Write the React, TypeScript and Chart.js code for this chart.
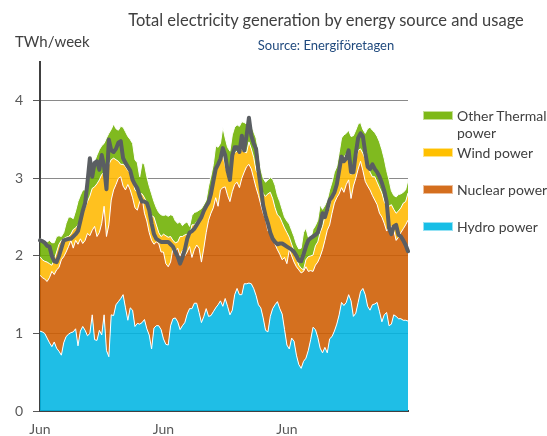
import React, { useEffect, useRef } from 'react';
import { Chart, registerables } from 'chart.js';

Chart.register(...registerables);

// Weekly values, TWh/week
const hydro = [
  1.03, 1.02, 1.00, 0.94, 0.88, 0.83, 0.89, 0.81, 0.77, 0.72,
  0.88, 0.96, 0.99, 1.01, 1.02, 1.06, 0.84, 1.03, 1.09, 1.04,
  0.97, 1.00, 1.24, 0.92, 0.91, 1.04, 0.98, 1.24, 0.78, 0.70,
  1.24, 1.23, 1.37, 1.41, 1.45, 1.50, 1.33, 1.17, 1.33, 1.30,
  1.09, 1.13, 1.12, 1.14, 1.18, 1.06, 0.98, 0.80, 1.07, 1.10,
  1.10, 1.05, 0.93, 0.86, 0.85, 1.10, 1.19, 1.20, 1.15, 1.05,
  1.10, 1.14, 1.25, 1.32, 1.32, 1.39, 1.39, 1.27, 1.14, 1.22,
  1.32, 1.22, 1.23, 1.28, 1.33, 1.37, 1.42, 1.35, 1.45, 1.35,
  1.24, 1.30, 1.50, 1.58, 1.50, 1.50, 1.64, 1.64, 1.65, 1.64,
  1.58, 1.49, 1.37, 1.33, 1.20, 1.04, 1.02, 1.22, 1.32, 1.37,
  1.41, 1.32, 1.25, 1.05, 0.85, 0.80, 0.94, 0.90, 0.72, 0.60,
  0.55, 0.64, 0.68, 0.78, 0.92, 1.08, 1.05, 0.95, 0.81, 0.75,
  0.82, 0.75, 0.93, 0.96, 1.03, 1.12, 1.24, 1.40, 1.36, 1.40,
  1.50, 1.42, 1.22, 1.26, 1.40, 1.54, 1.58, 1.50, 1.35, 1.30,
  1.37, 1.38, 1.40, 1.28, 1.15, 1.24, 1.27, 1.10, 1.12, 1.24,
  1.22, 1.19, 1.19, 1.17, 1.17, 1.16,
];

const nuclear = [
  0.72, 0.70, 0.70, 0.73, 0.84, 0.97, 0.87, 1.01, 1.08, 1.23,
  1.11, 1.09, 1.13, 1.19, 1.08, 1.14, 1.31, 1.19, 1.07, 1.16,
  1.32, 1.26, 1.09, 1.46, 1.34, 1.26, 1.44, 1.40, 1.47, 1.70,
  1.48, 1.62, 1.55, 1.59, 1.57, 1.40, 1.52, 1.75, 1.52, 1.45,
  1.53, 1.46, 1.58, 1.61, 1.37, 1.39, 1.32, 1.40, 1.08, 1.08,
  1.06, 1.00, 1.12, 1.04, 1.01, 0.82, 0.91, 0.85, 0.95, 0.95,
  0.97, 0.86, 0.80, 0.80, 0.66, 0.69, 0.75, 0.83, 0.78, 0.88,
  0.98, 1.24, 1.32, 1.34, 1.42, 1.27, 1.43, 1.53, 1.44, 1.43,
  1.46, 1.53, 1.42, 1.37, 1.38, 1.50, 1.44, 1.51, 1.53, 1.48,
  1.42, 1.39, 1.41, 1.33, 1.35, 1.43, 1.30, 1.10, 0.93, 0.78,
  0.67, 0.70, 0.70, 0.93, 1.05, 1.28, 1.06, 1.02, 1.14, 1.22,
  1.23, 1.16, 1.18, 1.02, 0.89, 0.72, 0.83, 0.97, 1.18, 1.33,
  1.38, 1.58, 1.47, 1.59, 1.65, 1.63, 1.56, 1.48, 1.46, 1.52,
  1.48, 1.32, 1.68, 1.74, 1.72, 1.68, 1.52, 1.46, 1.55, 1.55,
  1.41, 1.34, 1.26, 1.27, 1.35, 1.18, 1.05, 1.26, 1.26, 1.09,
  0.98, 1.05, 1.11, 1.18, 1.23, 1.30,
];

const wind = [
  0.24, 0.23, 0.23, 0.25, 0.18, 0.08, 0.19, 0.23, 0.30, 0.25,
  0.23, 0.19, 0.13, 0.08, 0.24, 0.16, 0.25, 0.24, 0.39, 0.42,
  0.41, 0.51, 0.54, 0.51, 0.68, 0.68, 0.63, 0.44, 0.88, 0.78,
  0.52, 0.41, 0.32, 0.22, 0.16, 0.28, 0.30, 0.18, 0.22, 0.25,
  0.23, 0.23, 0.10, 0.05, 0.20, 0.23, 0.30, 0.32, 0.35, 0.22,
  0.14, 0.20, 0.23, 0.36, 0.38, 0.33, 0.10, 0.12, 0.08, 0.25,
  0.18, 0.27, 0.23, 0.13, 0.42, 0.32, 0.30, 0.36, 0.58, 0.47,
  0.34, 0.24, 0.30, 0.38, 0.38, 0.54, 0.40, 0.42, 0.27, 0.27,
  0.30, 0.50, 0.41, 0.40, 0.52, 0.37, 0.26, 0.18, 0.29, 0.26,
  0.27, 0.22, 0.27, 0.24, 0.25, 0.30, 0.48, 0.50, 0.49, 0.47,
  0.45, 0.48, 0.48, 0.38, 0.40, 0.16, 0.15, 0.14, 0.11, 0.06,
  0.06, 0.02, 0.09, 0.19, 0.19, 0.21, 0.25, 0.26, 0.31, 0.30,
  0.31, 0.22, 0.23, 0.23, 0.17, 0.20, 0.31, 0.32, 0.45, 0.40,
  0.30, 0.31, 0.25, 0.24, 0.24, 0.16, 0.22, 0.29, 0.28, 0.23,
  0.24, 0.30, 0.29, 0.33, 0.31, 0.28, 0.32, 0.28, 0.28, 0.27,
  0.35, 0.34, 0.32, 0.33, 0.30, 0.35,
];

const otherThermal = [
  0.23, 0.25, 0.27, 0.26, 0.30, 0.29, 0.22, 0.20, 0.11, 0.05,
  0.08, 0.18, 0.25, 0.22, 0.14, 0.22, 0.30, 0.32, 0.30, 0.23,
  0.25, 0.28, 0.28, 0.33, 0.37, 0.39, 0.37, 0.37, 0.39, 0.40,
  0.39, 0.44, 0.40, 0.40, 0.49, 0.48, 0.45, 0.44, 0.43, 0.45,
  0.39, 0.38, 0.22, 0.40, 0.43, 0.34, 0.30, 0.28, 0.20, 0.22,
  0.26, 0.28, 0.24, 0.27, 0.27, 0.28, 0.32, 0.28, 0.24, 0.19,
  0.14, 0.15, 0.16, 0.13, 0.12, 0.16, 0.13, 0.13, 0.11, 0.09,
  0.08, 0.20, 0.18, 0.18, 0.29, 0.22, 0.20, 0.36, 0.36, 0.35,
  0.35, 0.23, 0.33, 0.34, 0.27, 0.36, 0.38, 0.37, 0.31, 0.30,
  0.33, 0.42, 0.30, 0.22, 0.20, 0.18, 0.18, 0.19, 0.25, 0.29,
  0.25, 0.20, 0.17, 0.14, 0.15, 0.17, 0.18, 0.19, 0.18, 0.21,
  0.26, 0.48, 0.41, 0.25, 0.21, 0.33, 0.26, 0.28, 0.36, 0.22,
  0.14, 0.17, 0.22, 0.17, 0.23, 0.20, 0.22, 0.32, 0.29, 0.26,
  0.34, 0.49, 0.40, 0.38, 0.34, 0.34, 0.31, 0.33, 0.46, 0.58,
  0.60, 0.57, 0.59, 0.59, 0.56, 0.55, 0.46, 0.34, 0.18, 0.18,
  0.21, 0.21, 0.18, 0.14, 0.15, 0.17,
];

const usage = [
  2.20, 2.19, 2.17, 2.13, 2.12, 2.00, 1.93, 1.92, 2.00, 2.10,
  2.20, 2.21, 2.22, 2.22, 2.25, 2.28, 2.32, 2.45, 2.58, 2.68,
  2.95, 3.26, 3.02, 3.20, 3.22, 3.11, 3.30, 3.15, 2.86, 3.50,
  3.36, 3.34, 3.38, 3.46, 3.48, 3.26, 3.20, 3.15, 3.10, 2.98,
  2.92, 2.87, 2.77, 2.70, 2.70, 2.68, 2.59, 2.42, 2.28, 2.22,
  2.20, 2.18, 2.18, 2.18, 2.18, 2.15, 2.12, 2.05, 1.99, 1.90,
  1.98, 2.08, 2.22, 2.30, 2.32, 2.35, 2.40, 2.45, 2.50, 2.58,
  2.64, 2.69, 2.80, 2.96, 3.12, 3.18, 3.25, 3.39, 3.30, 3.10,
  2.98, 3.30, 3.40, 3.40, 3.34, 3.55, 3.36, 3.55, 3.78, 3.55,
  3.45, 3.38, 3.10, 2.88, 2.65, 2.52, 2.42, 2.30, 2.22, 2.18,
  2.15, 2.16, 2.16, 2.14, 2.12, 2.10, 2.08, 2.05, 2.00, 1.94,
  1.93, 2.02, 2.12, 2.20, 2.23, 2.25, 2.27, 2.30, 2.40, 2.55,
  2.50, 2.60, 2.72, 2.76, 2.82, 2.92, 3.10, 3.28, 3.22, 3.26,
  3.36, 3.08, 3.08, 3.32, 3.52, 3.58, 3.54, 3.33, 3.15, 3.12,
  3.18, 3.12, 3.08, 3.02, 2.94, 2.84, 2.70, 2.36, 2.28, 2.38,
  2.40, 2.27, 2.25, 2.20, 2.14, 2.06,
];

// Category tick labels: week index -> label
const monthTickIndex = [0, 52, 104];
const monthTickLabel = ['Jun', 'Jun', 'Jun'];

const yTicks = [0, 1, 2, 3, 4];
const yMax = 4.5;

const seriesNames = ['Hydro power', 'Nuclear power', 'Wind power', 'Other Thermal power'];
const usageName = 'Usage';

const FONT = 'Lato, "Open Sans", sans-serif';

const COLORS = {
  hydro: 'rgba(0,181,227,0.88)',
  nuclear: 'rgba(206,92,0,0.88)',
  wind: 'rgba(255,184,0,0.88)',
  other: 'rgba(110,176,0,0.88)',
  usage: '#5a5e62',
};

const LEGEND_SWATCH = {
  hydro: '#17bee6',
  nuclear: '#d46e1e',
  wind: '#ffc000',
  other: '#7eb918',
};

export default function App() {
  const canvasRef = useRef<HTMLCanvasElement | null>(null);

  useEffect(() => {
    const labels = hydro.map((_, i) => {
      const k = monthTickIndex.indexOf(i);
      return k >= 0 ? monthTickLabel[k] : '';
    });
    const area = (label: string, data: number[], color: string, fill: string | boolean) => ({
      label,
      data,
      backgroundColor: color,
      borderColor: '#ffffff',
      borderWidth: 1,
      pointRadius: 0,
      fill,
      stack: 'gen',
      order: 1,
    });
    const chart = new Chart(canvasRef.current as HTMLCanvasElement, {
      type: 'line',
      data: {
        labels,
        datasets: [
          {
            label: usageName,
            data: usage,
            borderColor: COLORS.usage,
            borderWidth: 4,
            pointRadius: 0,
            fill: false,
            stack: 'usage',
            borderJoinStyle: 'round',
            borderCapStyle: 'round',
            order: 0,
          } as any,
          area(seriesNames[0], hydro, COLORS.hydro, 'origin'),
          area(seriesNames[1], nuclear, COLORS.nuclear, '-1'),
          area(seriesNames[2], wind, COLORS.wind, '-1'),
          area(seriesNames[3], otherThermal, COLORS.other, '-1'),
        ],
      },
      options: {
        animation: false,
        responsive: true,
        maintainAspectRatio: false,
        layout: { padding: { left: 15, right: 139, top: 62, bottom: 0 } },
        plugins: {
          legend: { display: false },
          tooltip: { enabled: false },
        },
        elements: { line: { tension: 0 } },
        scales: {
          x: {
            type: 'category',
            grid: { display: false, drawTicks: false },
            border: { display: true, color: '#404040', width: 2 },
            ticks: {
              autoSkip: false,
              maxRotation: 0,
              minRotation: 0,
              padding: 10,
              color: '#595959',
              font: { family: FONT, size: 14 },
            },
            afterFit: (s: any) => {
              s.height = 25;
            },
          },
          y: {
            stacked: true,
            min: 0,
            max: yMax,
            afterBuildTicks: (s: any) => {
              s.ticks = yTicks.map((v) => ({ value: v }));
            },
            ticks: {
              padding: 10,
              color: '#595959',
              font: { family: FONT, size: 14 },
            },
            grid: {
              color: (ctx: any) => (ctx.tick && ctx.tick.value === 0 ? 'rgba(0,0,0,0)' : '#8a8a8a'),
              tickColor: '#595959',
              tickLength: 7,
              lineWidth: 1,
            },
            border: { color: '#404040', width: 2 },
            afterFit: (s: any) => {
              s.width = 25;
            },
          },
        },
      } as any,
    });
    return () => chart.destroy();
  }, []);

  const legendItems = [
    { key: 'other', lines: ['Other Thermal', 'power'], top: 111 },
    { key: 'wind', lines: ['Wind power'], top: 148 },
    { key: 'nuclear', lines: ['Nuclear power'], top: 185 },
    { key: 'hydro', lines: ['Hydro power'], top: 222 },
  ];

  return (
    <div style={{ position: 'absolute', left: 0, top: 0, width: 547, height: 436, background: '#ffffff', fontFamily: FONT }}>
      <div style={{ position: 'absolute', left: 0, top: 0, width: 547, height: 436 }}>
        <canvas ref={canvasRef} />
      </div>
      <div style={{ position: 'absolute', left: 76, width: 500, top: 11, textAlign: 'center', fontSize: 16.5, lineHeight: '18px', color: '#404040', whiteSpace: 'nowrap' }}>
        Total electricity generation by energy source and usage
      </div>
      <div style={{ position: 'absolute', left: 176, width: 300, top: 37, textAlign: 'center', fontSize: 13, lineHeight: '16px', color: '#1f497d', whiteSpace: 'nowrap' }}>
        Source: Energiföretagen
      </div>
      <div style={{ position: 'absolute', left: 15, top: 33, fontSize: 15, lineHeight: '16px', color: '#404040', whiteSpace: 'nowrap' }}>
        TWh/week
      </div>
      {legendItems.map((it) => (
        <React.Fragment key={it.key}>
          <div
            style={{
              position: 'absolute',
              left: 423,
              top: it.top,
              width: 30,
              height: 9,
              boxSizing: 'border-box',
              background: (LEGEND_SWATCH as any)[it.key],
              border: '1px solid rgba(255,255,255,0.55)',
            }}
          />
          <div style={{ position: 'absolute', left: 457, top: it.top - 4, fontSize: 14, lineHeight: '17px', color: '#404040', whiteSpace: 'nowrap' }}>
            {it.lines.map((l, j) => (
              <div key={j}>{l}</div>
            ))}
          </div>
        </React.Fragment>
      ))}
    </div>
  );
}
